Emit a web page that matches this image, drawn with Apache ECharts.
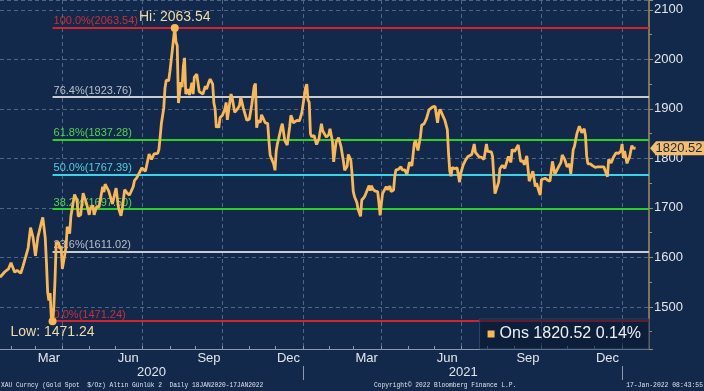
<!DOCTYPE html>
<html><head><meta charset="utf-8">
<script src="https://cdn.jsdelivr.net/npm/echarts@6/dist/echarts.min.js"></script>
<style>html,body{margin:0;padding:0;background:#13294b;}#c{width:704px;height:391px;}</style>
</head><body><div id="c"></div>
<script>
// ---- axis range / ticks ----
const startDate = '2020-01-20';
const endDate = '2022-02-01';
const monthNames = ['Jan','Feb','Mar','Apr','May','Jun','Jul','Aug','Sep','Oct','Nov','Dec'];
const labelMonths = [2, 5, 8, 11];          // Mar, Jun, Sep, Dec
const yearLabels = ['2020', '2021'];

// ---- Fibonacci retracement levels ----
const fibLabels = ['100.0%', '76.4%', '61.8%', '50.0%', '38.2%', '23.6%', '0.0%'];
const fibValues = [2063.54, 1923.76, 1837.28, 1767.39, 1697.50, 1611.02, 1471.24];
const fibColors = ['#d3232c', '#c8ccd3', '#28d028', '#38d4ea', '#28d028', '#c8ccd3', '#d3232c'];
const fibTextColors = ['#c8303a', '#b9bfca', '#55d155', '#52cde0', '#55d155', '#b9bfca', '#c8303a'];
const lowDate = '2020-03-19';

// ---- XAU spot (Ons) ----
const ons2020 = [
['2020-01-20',1560],['2020-01-24',1571],['2020-01-29',1577],['2020-01-31',1589],['2020-02-05',1570],['2020-02-07',1574],['2020-02-12',1568],['2020-02-14',1584],['2020-02-18',1601],['2020-02-20',1619],['2020-02-24',1660],['2020-02-26',1641],['2020-02-28',1603],['2020-03-03',1641],['2020-03-06',1672],['2020-03-09',1681],['2020-03-11',1640],['2020-03-12',1590],['2020-03-13',1530],['2020-03-16',1513],['2020-03-17',1528],['2020-03-18',1478],['2020-03-19',1471.24],['2020-03-20',1498],['2020-03-23',1554],['2020-03-24',1630],['2020-03-25',1634],['2020-03-26',1630],['2020-03-27',1617],['2020-03-30',1622],['2020-03-31',1577],['2020-04-01',1591],['2020-04-03',1620],['2020-04-06',1662],['2020-04-08',1648],['2020-04-09',1683],['2020-04-14',1727],['2020-04-16',1716],['2020-04-17',1683],['2020-04-21',1686],['2020-04-23',1730],['2020-04-24',1727],['2020-04-28',1707],['2020-04-30',1686],['2020-05-01',1700],['2020-05-05',1705],['2020-05-06',1686],['2020-05-08',1702],['2020-05-12',1702],['2020-05-15',1743],['2020-05-18',1732],['2020-05-19',1748],['2020-05-22',1734],['2020-05-27',1708],['2020-05-29',1730],['2020-06-01',1740],['2020-06-03',1699],['2020-06-05',1684],['2020-06-08',1698],['2020-06-10',1737],['2020-06-12',1730],['2020-06-16',1726],['2020-06-19',1743],['2020-06-22',1755],['2020-06-24',1761],['2020-06-26',1771],['2020-06-30',1781],['2020-07-03',1774],['2020-07-08',1809],['2020-07-10',1798],['2020-07-14',1809],['2020-07-17',1810],['2020-07-20',1818],['2020-07-21',1842],['2020-07-22',1870],['2020-07-24',1902],['2020-07-27',1942],['2020-07-28',1958],['2020-07-30',1957],['2020-07-31',1975],['2020-08-04',2019],['2020-08-06',2063.54],['2020-08-07',2035],['2020-08-10',2028],['2020-08-11',1912],['2020-08-13',1954],['2020-08-14',1944],['2020-08-17',1986],['2020-08-18',2003],['2020-08-19',1930],['2020-08-21',1940],['2020-08-24',1928],['2020-08-26',1953],['2020-08-27',1930],['2020-08-28',1964],['2020-09-01',1970],['2020-09-03',1935],['2020-09-04',1934],['2020-09-08',1930],['2020-09-10',1946],['2020-09-11',1940],['2020-09-15',1955],['2020-09-16',1960],['2020-09-18',1950],['2020-09-21',1912],['2020-09-22',1900],['2020-09-23',1862],['2020-09-24',1868],['2020-09-25',1862],['2020-09-28',1882],['2020-09-30',1887],['2020-10-02',1900],['2020-10-05',1913],['2020-10-06',1878],['2020-10-09',1930],['2020-10-12',1922],['2020-10-14',1893],['2020-10-16',1899],['2020-10-20',1907],['2020-10-21',1924],['2020-10-23',1902],['2020-10-26',1902],['2020-10-28',1877],['2020-10-30',1879],['2020-11-03',1909],['2020-11-05',1946],['2020-11-06',1951],['2020-11-09',1862],['2020-11-10',1876],['2020-11-12',1873],['2020-11-13',1888],['2020-11-16',1886],['2020-11-18',1872],['2020-11-20',1871],['2020-11-23',1837],['2020-11-24',1807],['2020-11-27',1788],['2020-11-30',1776],['2020-12-01',1815],['2020-12-02',1830],['2020-12-03',1840],['2020-12-04',1839],['2020-12-07',1862],['2020-12-08',1870],['2020-12-10',1836],['2020-12-11',1839],['2020-12-14',1827],['2020-12-16',1864],['2020-12-17',1887],['2020-12-18',1881],['2020-12-21',1872],['2020-12-22',1869],['2020-12-24',1877],['2020-12-28',1876],['2020-12-30',1893],['2020-12-31',1895]
];
const ons2021 = [
['2021-01-04',1943],['2021-01-05',1950],['2021-01-06',1918],['2021-01-07',1913],['2021-01-08',1850],['2021-01-11',1844],['2021-01-13',1846],['2021-01-15',1828],['2021-01-19',1840],['2021-01-21',1870],['2021-01-22',1856],['2021-01-25',1855],['2021-01-27',1843],['2021-01-29',1848],['2021-02-01',1860],['2021-02-03',1834],['2021-02-04',1793],['2021-02-05',1814],['2021-02-08',1833],['2021-02-10',1842],['2021-02-12',1824],['2021-02-16',1794],['2021-02-17',1776],['2021-02-19',1784],['2021-02-22',1808],['2021-02-24',1797],['2021-02-25',1770],['2021-02-26',1734],['2021-03-01',1723],['2021-03-03',1711],['2021-03-04',1697],['2021-03-08',1683],['2021-03-09',1716],['2021-03-11',1722],['2021-03-12',1727],['2021-03-15',1731],['2021-03-17',1745],['2021-03-18',1735],['2021-03-19',1745],['2021-03-22',1738],['2021-03-24',1734],['2021-03-26',1733],['2021-03-29',1711],['2021-03-30',1685],['2021-03-31',1708],['2021-04-01',1729],['2021-04-06',1743],['2021-04-07',1737],['2021-04-09',1744],['2021-04-12',1733],['2021-04-14',1736],['2021-04-15',1764],['2021-04-16',1777],['2021-04-20',1778],['2021-04-22',1783],['2021-04-23',1777],['2021-04-27',1777],['2021-04-29',1768],['2021-04-30',1769],['2021-05-03',1792],['2021-05-05',1785],['2021-05-07',1831],['2021-05-10',1836],['2021-05-12',1816],['2021-05-14',1844],['2021-05-17',1867],['2021-05-19',1870],['2021-05-21',1881],['2021-05-25',1898],['2021-05-26',1897],['2021-05-28',1904],['2021-06-01',1905],['2021-06-03',1872],['2021-06-04',1891],['2021-06-07',1899],['2021-06-09',1888],['2021-06-11',1877],['2021-06-15',1858],['2021-06-16',1810],['2021-06-17',1774],['2021-06-18',1764],['2021-06-21',1782],['2021-06-23',1779],['2021-06-25',1781],['2021-06-28',1779],['2021-06-29',1752],['2021-06-30',1770],['2021-07-02',1787],['2021-07-06',1797],['2021-07-08',1804],['2021-07-09',1808],['2021-07-13',1808],['2021-07-15',1829],['2021-07-16',1812],['2021-07-19',1812],['2021-07-21',1803],['2021-07-23',1802],['2021-07-27',1798],['2021-07-29',1829],['2021-07-30',1814],['2021-08-02',1813],['2021-08-04',1813],['2021-08-05',1804],['2021-08-06',1763],['2021-08-09',1729],['2021-08-10',1731],['2021-08-12',1752],['2021-08-13',1779],['2021-08-17',1786],['2021-08-19',1780],['2021-08-20',1781],['2021-08-24',1804],['2021-08-26',1792],['2021-08-27',1818],['2021-08-31',1814],['2021-09-03',1827],['2021-09-07',1794],['2021-09-09',1795],['2021-09-10',1787],['2021-09-14',1805],['2021-09-16',1754],['2021-09-17',1754],['2021-09-21',1774],['2021-09-23',1743],['2021-09-24',1750],['2021-09-28',1733],['2021-09-29',1726],['2021-09-30',1757],['2021-10-01',1761],['2021-10-05',1760],['2021-10-07',1756],['2021-10-08',1757],['2021-10-11',1754],['2021-10-13',1794],['2021-10-14',1797],['2021-10-15',1768],['2021-10-18',1765],['2021-10-20',1783],['2021-10-22',1792],['2021-10-25',1807],['2021-10-27',1798],['2021-10-29',1783],['2021-11-02',1789],['2021-11-03',1769],['2021-11-04',1792],['2021-11-05',1818],['2021-11-08',1824],['2021-11-10',1850],['2021-11-12',1865],['2021-11-15',1863],['2021-11-16',1852],['2021-11-18',1860],['2021-11-19',1846],['2021-11-22',1805],['2021-11-23',1789],['2021-11-25',1789],['2021-11-26',1792],['2021-11-29',1785],['2021-12-01',1782],['2021-12-03',1783],['2021-12-06',1779],['2021-12-08',1783],['2021-12-10',1783],['2021-12-13',1787],['2021-12-15',1763],['2021-12-16',1798],['2021-12-17',1798],['2021-12-20',1791],['2021-12-22',1803],['2021-12-24',1811],['2021-12-28',1810],['2021-12-30',1815],['2021-12-31',1829]
];
const ons2022 = [
['2022-01-03',1801],['2022-01-04',1815],['2022-01-06',1790],['2022-01-07',1797],['2022-01-10',1802],['2022-01-12',1826],['2022-01-13',1821],['2022-01-14',1818],['2022-01-17',1820.52]
];
const lastValue = 1820.52;
const lastChange = '0.14%';

// ---- build weekday category axis ----
const categories = [];
for (let d = new Date(startDate + 'T00:00:00Z'); d <= new Date(endDate + 'T00:00:00Z'); d.setUTCDate(d.getUTCDate() + 1)) {
  const w = d.getUTCDay();
  if (w !== 0 && w !== 6) categories.push(d.toISOString().slice(0, 10));
}
const n = categories.length;
const mon = i => +categories[i].slice(5, 7) - 1;
const day = i => +categories[i].slice(8, 10);
const yr = i => categories[i].slice(0, 4);
const isMonthEnd = i => i < n - 1 && mon(i + 1) !== mon(i);
const isQuarterEnd = i => isMonthEnd(i) && labelMonths.includes(mon(i));
const isMidLabel = i => i > 0 && labelMonths.includes(mon(i)) && day(i) >= 15 && (day(i - 1) < 15 || mon(i - 1) !== mon(i));
const isYearEnd = i => i < n - 1 && yr(i + 1) !== yr(i);
const yearMid = {};
yearLabels.forEach(y => {
  const idx = categories.map((c, i) => c.startsWith(y) ? i : -1).filter(i => i >= 0);
  yearMid[Math.round((idx[0] + idx[idx.length - 1]) / 2)] = y;
});

const onsData = ons2020.concat(ons2021, ons2022);
const lastCat = categories[n - 1];
const FONT = 'Liberation Sans, Arial, sans-serif';

const fibLines = fibValues.map((v, k) => {
  const ls = { color: fibColors[k], width: 2, type: 'solid' };
  const lb = { show: true, position: 'insideStartTop', formatter: fibLabels[k] + '(' + v.toFixed(2) + ')',
    color: fibTextColors[k], fontSize: 11, fontFamily: FONT, distance: [1, 1] };
  return [{ coord: [lowDate, v], lineStyle: ls, label: lb }, { coord: [lastCat, v], lineStyle: ls, label: lb }];
});

const chart = echarts.init(document.getElementById('c'));
const gridCol = '#4e6587';
const axisTan = '#a38d62';
chart.setOption({
  animation: false,
  backgroundColor: '#13294b',
  textStyle: { fontFamily: FONT },
  grid: { left: 0, right: 55, top: 0, bottom: 42, containLabel: false },
  xAxis: [{
    type: 'category', data: categories, boundaryGap: false, position: 'bottom',
    axisLine: { show: true, lineStyle: { color: '#8a99b0', width: 1 } },
    axisTick: { show: true, inside: true, length: 3, interval: (i) => isMonthEnd(i), lineStyle: { color: '#8a99b0' } },
    splitLine: { show: true, interval: (i) => isQuarterEnd(i), lineStyle: { color: gridCol, type: [4, 3], width: 1 } },
    axisLabel: { interval: (i) => isMidLabel(i), formatter: v => monthNames[+v.slice(5, 7) - 1],
      color: '#e2e6ec', fontSize: 13, margin: 3, fontFamily: FONT }
  }, {
    type: 'category', data: categories, boundaryGap: false, position: 'bottom', offset: 17,
    axisLine: { show: false },
    axisTick: { show: true, length: 14, interval: (i) => isYearEnd(i), lineStyle: { color: '#8a99b0' } },
    splitLine: { show: false },
    axisLabel: { interval: (i) => yearMid[i] !== undefined, formatter: v => v.slice(0, 4),
      color: '#e2e6ec', fontSize: 13, margin: 0, fontFamily: FONT }
  }],
  yAxis: {
    type: 'value', position: 'right', min: 1415, max: 2120, splitNumber: 7,
    axisLine: { show: true, lineStyle: { color: axisTan, width: 1.5 } },
    axisTick: { show: true, length: 4, lineStyle: { color: axisTan } },
    minorTick: { show: true, splitNumber: 2, length: 3, lineStyle: { color: axisTan } },
    splitLine: { show: true, lineStyle: { color: gridCol, type: [4, 3], width: 1 } },
    axisLabel: { color: '#e2e6ec', fontSize: 13, margin: 5, showMinLabel: false, showMaxLabel: false,
      fontFamily: FONT, formatter: v => String(v) }
  },
  legend: {
    show: true, data: ['Ons'], right: 55, bottom: 42, icon: 'rect', itemWidth: 7, itemHeight: 7, itemGap: 0,
    padding: [7, 8, 7, 8], backgroundColor: 'rgba(8,22,44,0.55)', borderColor: '#2e4468', borderWidth: 1,
    textStyle: { color: '#eef0f3', fontSize: 16, fontFamily: FONT },
    formatter: name => name + ' ' + lastValue.toFixed(2) + ' ' + lastChange
  },
  series: [{
    name: 'Fib', type: 'line', data: [], silent: true, z: 1,
    markLine: { silent: true, symbol: ['none', 'none'], z: 1, data: fibLines }
  }, {
    name: 'Ons', type: 'line', data: onsData, showSymbol: false, symbol: 'none', z: 3,
    lineStyle: { color: '#f8b85a', width: 2.8 }, itemStyle: { color: '#f8b85a' },
    markPoint: {
      symbol: 'circle', symbolSize: 8, z: 6,
      itemStyle: { color: '#f8b85a' },
      label: { color: '#f0dca6', fontSize: 14, fontFamily: FONT, distance: 0 },
      data: [
        { type: 'max', name: 'Hi', label: { position: 'top', formatter: 'Hi: {c}' } },
        { type: 'min', name: 'Low', label: { position: 'bottom', formatter: 'Low: {c}' } }
      ]
    }
  }],
  graphic: [
    { type: 'text', id: 'f1', x: 1, y: 385, scaleX: 0.78, z: 50,
      style: { text: 'XAU Curncy (Gold Spot  $/Oz) Altın Günlük 2  Daily 18JAN2020-17JAN2022', fill: '#dfe3ea',
        font: '8px Liberation Mono, monospace', align: 'left', verticalAlign: 'middle' } },
    { type: 'text', id: 'f2', x: 374, y: 385, scaleX: 0.78, z: 50,
      style: { text: 'Copyright\u00a9 2022 Bloomberg Finance L.P.', fill: '#dfe3ea',
        font: '8px Liberation Mono, monospace', align: 'left', verticalAlign: 'middle' } },
    { type: 'text', id: 'f3', x: 703, y: 385, scaleX: 0.8, z: 50,
      style: { text: '17-Jan-2022 08:43:55', fill: '#dfe3ea',
        font: '8px Liberation Mono, monospace', align: 'right', verticalAlign: 'middle' } }
  ]
});

// current price tag on the right axis
const ty = chart.convertToPixel({ yAxisIndex: 0 }, lastValue);
const ax = chart.convertToPixel({ xAxisIndex: 0 }, lastCat);
chart.setOption({
  graphic: [
    { type: 'polygon', id: 'tag', z: 60,
      shape: { points: [[ax + 1, ty], [ax + 7, ty - 7], [704, ty - 7], [704, ty + 7], [ax + 7, ty + 7]] },
      style: { fill: '#f5be6c' } },
    { type: 'text', id: 'tagt', z: 61, x: ax + 30, y: ty + 0.5,
      style: { text: lastValue.toFixed(2), fill: '#14284a', font: '13px Liberation Sans, Arial, sans-serif',
        align: 'center', verticalAlign: 'middle' } }
  ]
});
</script>
</body></html>
